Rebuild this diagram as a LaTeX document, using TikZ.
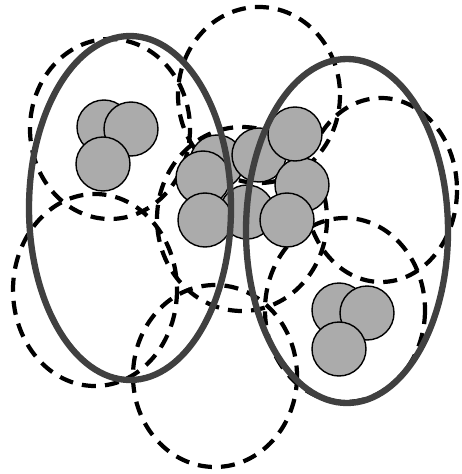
\documentclass[tikz,border=0pt]{standalone}
\usepackage{tikz}

\begin{document}
\begin{tikzpicture}[x=0.02cm, y=-0.02cm,
    window/.style={black, line width=2.4pt, dash pattern=on 8pt off 5.2pt},
    cluster/.style={black!75, line width=3.6pt},
    ball/.style={fill=black!33, draw=black, line width=0.8pt}]
    \useasboundingbox (0,0) rectangle (462,474);

    % Dashed search windows
    \foreach \cx/\cy/\rx/\ry in {110/129/80/90, 259/95/81/88, 381/190/76/92, 242/219/85/92, 95/290/82/96, 215/376/82/91, 345/310/80/92} {
        \draw[window] (\cx,\cy) ellipse [x radius=\rx, y radius=\ry];
    }

    % Balls of the three groups (back to front)
    \foreach \x/\y in {104/127, 131/129, 103/164, 217/162, 259/155, 302/185, 295/134, 203/178, 247/212, 205/220, 287/220, 339/310, 367/313, 339/349} {
        \filldraw[ball] (\x,\y) circle [radius=27];
    }

    % Solid cluster outlines
    \draw[cluster] (130,208) ellipse [x radius=101, y radius=172];
    \draw[cluster] (347,231) ellipse [x radius=101, y radius=172];
\end{tikzpicture}
\end{document}
